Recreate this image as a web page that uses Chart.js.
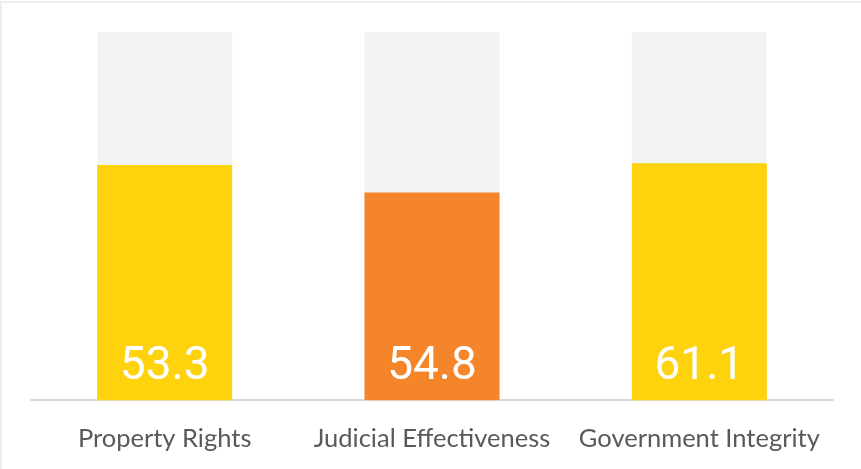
<!DOCTYPE html>
<html>
<head>
<meta charset="utf-8">
<script src="https://cdn.jsdelivr.net/npm/chart.js@4/dist/chart.umd.min.js"></script>
<style>
  html, body { margin: 0; padding: 0; background: #fff; }
  #wrap { width: 861px; height: 469px; }
</style>
</head>
<body>
<div id="wrap"><canvas id="scoreChart" width="861" height="469"></canvas></div>
<script>
const categories = ['Property Rights', 'Judicial Effectiveness', 'Government Integrity'];
// bar heights as drawn (0-100 scale), and the score text printed on each bar
const barHeights = [63.9, 56.4, 64.4];
const scoreLabels = ['53.3', '54.8', '61.1'];
const fullScale = [100, 100, 100];
const barColors = ['#FED30E', '#F5852A', '#FED30E'];

// writes the score near the bottom of each coloured bar
const scoreText = {
  id: 'scoreText',
  afterDatasetsDraw(chart) {
    const ctx = chart.ctx;
    const meta = chart.getDatasetMeta(0);
    ctx.save();
    ctx.fillStyle = '#ffffff';
    ctx.font = '46px Roboto';
    ctx.textAlign = 'center';
    ctx.textBaseline = 'alphabetic';
    meta.data.forEach((bar, i) => {
      ctx.fillText(scoreLabels[i], bar.x, bar.base - 21);
    });
    ctx.restore();
  }
};

// thin frame at the top / left edge
const frame = {
  id: 'frame',
  beforeDraw(chart) {
    const ctx = chart.ctx;
    ctx.save();
    ctx.strokeStyle = '#eeeeee';
    ctx.lineWidth = 2;
    ctx.strokeRect(1, 2, chart.width + 10, chart.height + 10);
    ctx.restore();
  }
};

const ctx = document.getElementById('scoreChart');
const scoreChart = new Chart(ctx, {
  type: 'bar',
  data: {
    labels: categories,
    datasets: [
      {
        data: barHeights,
        backgroundColor: barColors,
        grouped: false,
        barPercentage: 1,
        categoryPercentage: 0.505,
      },
      {
        data: fullScale,
        backgroundColor: '#F2F3F3',
        grouped: false,
        barPercentage: 1,
        categoryPercentage: 0.505,
      },
    ],
  },
  options: {
    responsive: false,
    animation: false,
    layout: {
      padding: { left: 31, right: 28, top: 32, bottom: 15 },
    },
    plugins: {
      legend: { display: false },
      tooltip: { enabled: false },
    },
    scales: {
      x: {
        // grid hidden, tick length only used as a gap above the labels
        grid: { display: false, drawTicks: true, tickLength: 23 },
        border: { color: '#D9D9D9', width: 2 },
        ticks: {
          color: '#595959',
          padding: 0,
          font: { family: 'Lato', size: 25.5 },
        },
      },
      y: {
        display: false,
        min: 0,
        max: 100,
      },
    },
  },
  plugins: [frame, scoreText],
});
</script>
</body>
</html>
